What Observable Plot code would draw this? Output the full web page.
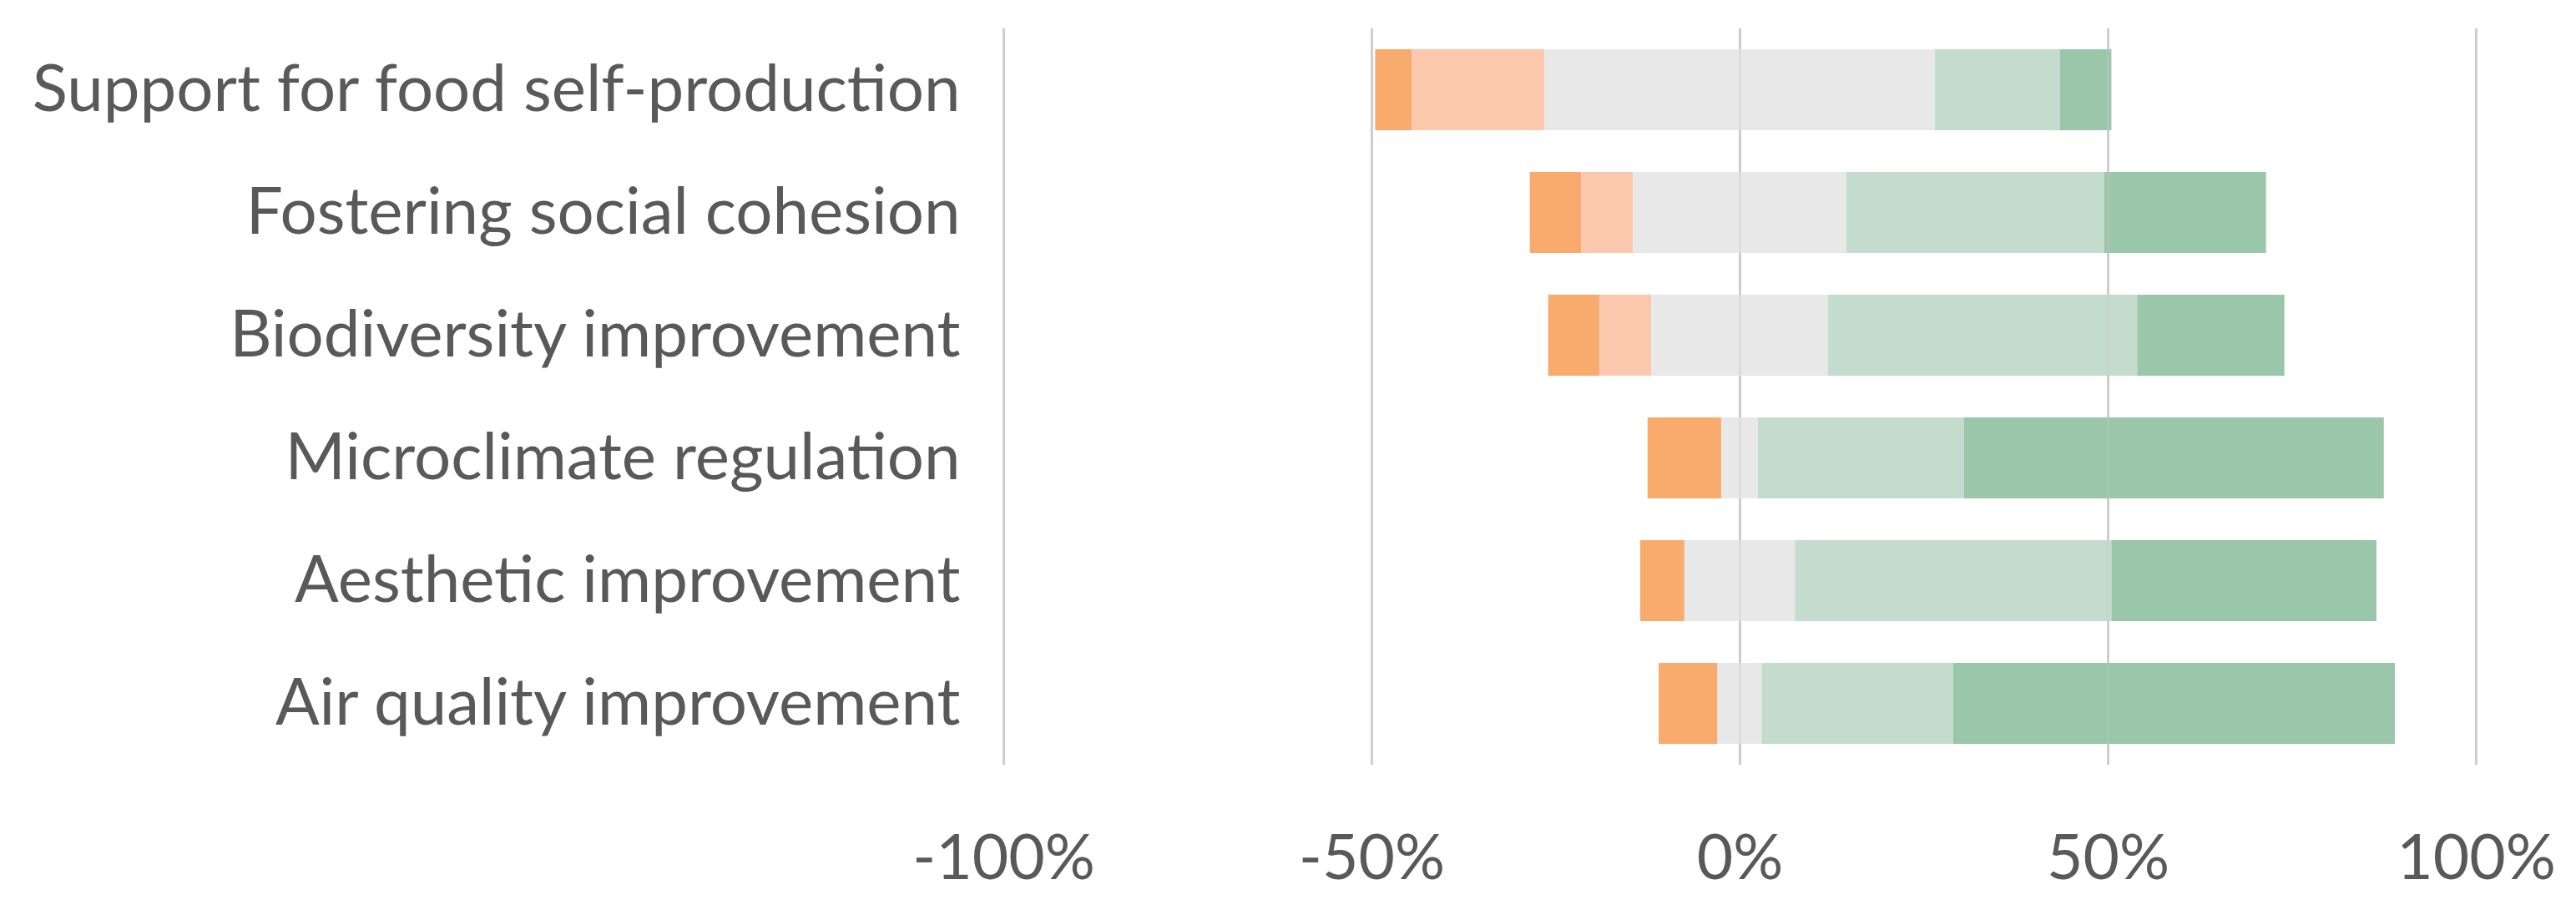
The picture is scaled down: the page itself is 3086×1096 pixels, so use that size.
<!DOCTYPE html>
<html>
<head>
<meta charset="utf-8">
<script src="https://cdn.jsdelivr.net/npm/d3@7"></script>
<script src="https://cdn.jsdelivr.net/npm/@observablehq/plot@0.6"></script>
<style>
  html, body { margin: 0; padding: 0; background: #ffffff; }
  #chart svg { display: block; }
</style>
</head>
<body>
<div id="chart"></div>
<script>
// Categories (top to bottom)
const categories = [
  "Support for food self-production",
  "Fostering social cohesion",
  "Biodiversity improvement",
  "Microclimate regulation",
  "Aesthetic improvement",
  "Air quality improvement"
];
// Response shares (%)
const stronglyDisagree = [5, 7, 7, 10, 6, 8];
const disagree         = [18, 7, 7, 0, 0, 0];
const neutral          = [53, 29, 24, 5, 15, 6];
const agree            = [17, 35, 42, 28, 43, 26];
const stronglyAgree    = [7, 22, 20, 57, 36, 60];

const levels = ["Strongly disagree", "Disagree", "Neutral", "Agree", "Strongly agree"];
const levelColors = ["#F8AB6C", "#FBC8AE", "#E8E8E8", "#C3DCCD", "#9AC6AA"];
const xTicks = [-1, -0.5, 0, 0.5, 1];

// Diverging stack: neutral is split around zero
const rows = [];
categories.forEach((c, i) => {
  const vals = [stronglyDisagree[i], disagree[i], neutral[i], agree[i], stronglyAgree[i]];
  let start = -(vals[0] + vals[1] + vals[2] / 2);
  vals.forEach((v, k) => {
    rows.push({category: c, level: levels[k], x1: start / 100, x2: (start + v) / 100});
    start += v;
  });
});

const fmt = d => `${Math.round(d * 100)}%`;

const chart = Plot.plot({
  width: 3086,
  height: 1096,
  marginLeft: 1202,
  marginRight: 120,
  marginTop: 34,
  marginBottom: 180,
  style: {fontFamily: "Lato, 'Open Sans', sans-serif", fontSize: "75px", color: "#595959", background: "#ffffff"},
  x: {domain: [-1, 1], label: null},
  y: {domain: categories, paddingInner: 0.34, paddingOuter: 0.17, label: null},
  color: {domain: levels, range: levelColors},
  marks: [
    Plot.ruleX(xTicks, {stroke: "#d0d0d0", strokeWidth: 3}),
    Plot.barX(rows, {y: "category", x1: "x1", x2: "x2", fill: "level"}),
    Plot.ruleX(xTicks, {stroke: "#c8c8c8", strokeWidth: 3, strokeOpacity: 0.35}),
    Plot.axisY({tickSize: 0, tickPadding: 52, fontSize: 78}),
    Plot.axisX({ticks: xTicks, tickSize: 0, tickPadding: 83, tickFormat: fmt})
  ]
});
document.getElementById("chart").appendChild(chart);
</script>
</body>
</html>
